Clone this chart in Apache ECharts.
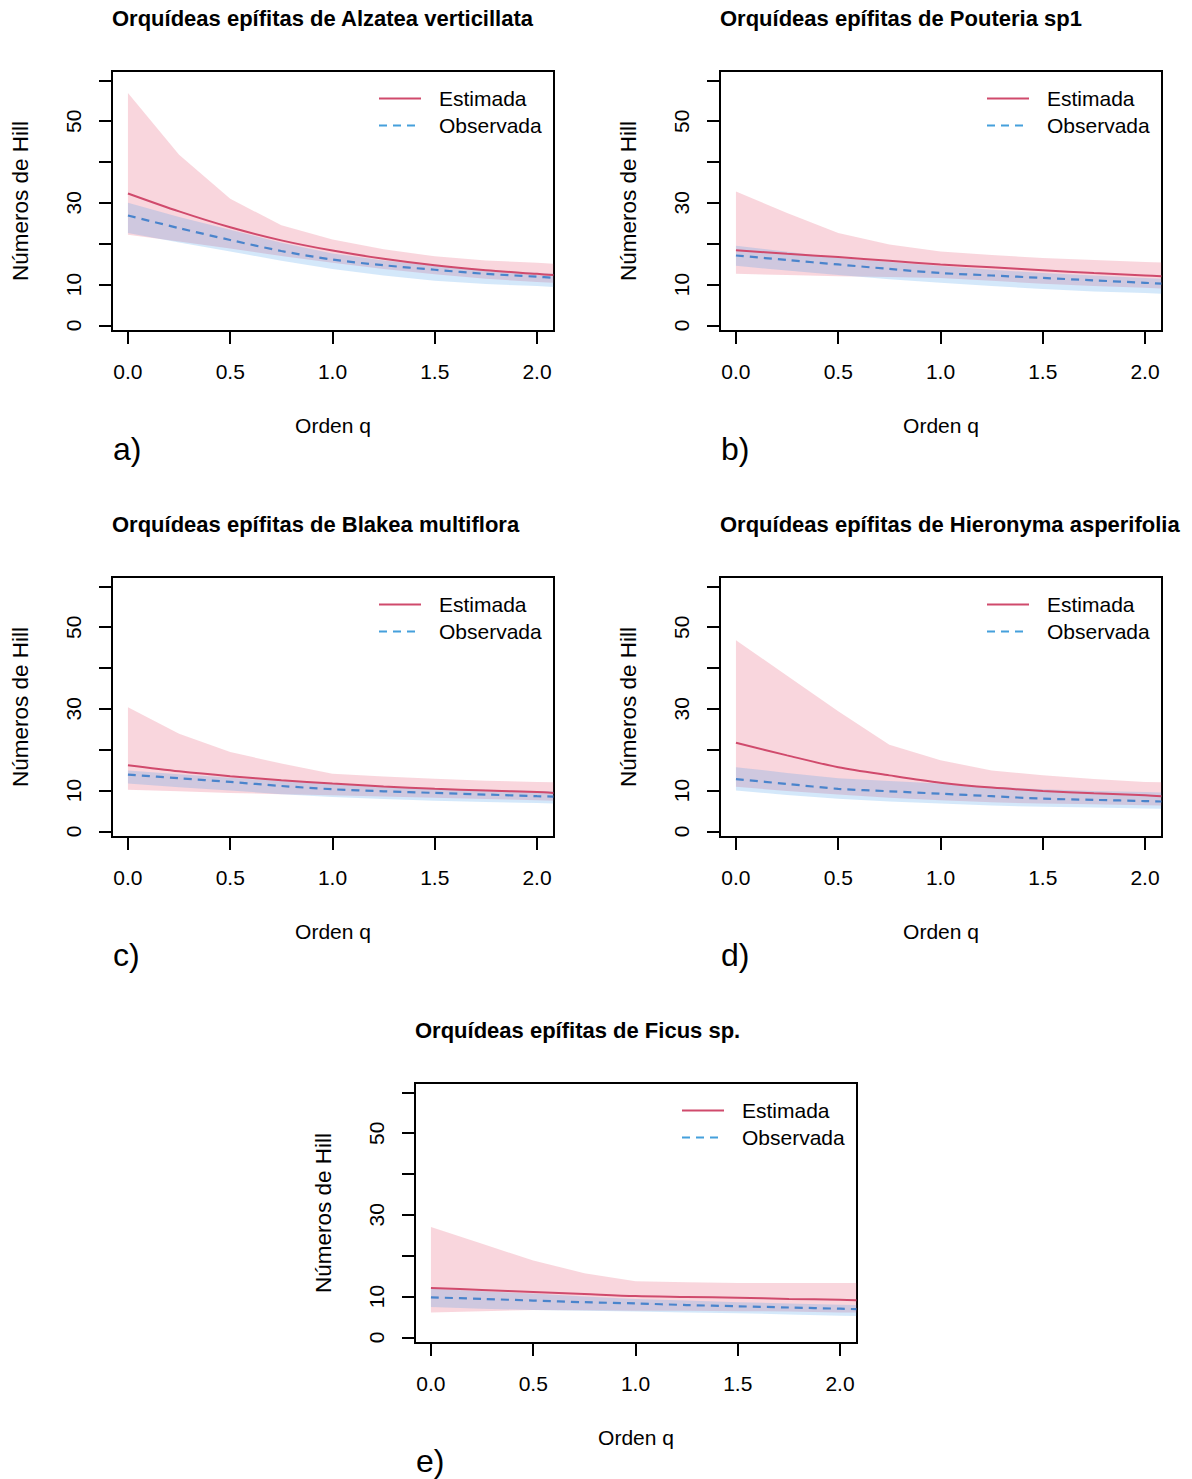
<!DOCTYPE html>
<html><head><meta charset="utf-8">
<script src="https://cdn.jsdelivr.net/npm/echarts@6/dist/echarts.min.js"></script>
<style>html,body{margin:0;padding:0;background:#fff}#c{width:1192px;height:1479px}</style>
</head><body><div id="c"></div>
<script>
// Orden q
const q = [0, 0.25, 0.5, 0.75, 1.0, 1.25, 1.5, 1.75, 2.0, 2.08];
const xTicks = [0, 0.5, 1.0, 1.5, 2.0];
const yTicks = [0, 10, 20, 30, 40, 50, 60];
const yLabels = [0, 10, 30, 50];
const seriesNames = ['Estimada', 'Observada'];

// a) Alzatea verticillata
const alzEst   = [32.3, 27.9, 24.0, 20.8, 18.3, 16.3, 14.7, 13.5, 12.6, 12.3];
const alzEstHi = [56.9, 41.8, 31.0, 24.5, 21.0, 18.6, 16.9, 15.9, 15.3, 15.1];
const alzEstLo = [22.2, 20.5, 18.8, 17.0, 15.3, 13.8, 12.5, 11.4, 10.6, 10.4];
const alzObs   = [26.9, 23.8, 20.9, 18.2, 16.1, 14.7, 13.6, 12.6, 11.9, 11.6];
const alzObsHi = [30.0, 26.5, 23.4, 20.2, 17.6, 15.9, 14.6, 13.6, 12.8, 12.6];
const alzObsLo = [22.6, 20.3, 18.1, 15.8, 13.8, 12.2, 10.9, 10.1, 9.6, 9.4];

// b) Pouteria sp1
const pouEst   = [18.4, 17.5, 16.7, 15.8, 14.9, 14.2, 13.5, 12.8, 12.2, 12.0];
const pouEstHi = [32.8, 27.5, 22.6, 19.8, 18.1, 17.2, 16.5, 16.0, 15.5, 15.4];
const pouEstLo = [12.6, 12.3, 12.0, 11.8, 11.6, 10.9, 10.2, 9.6, 9.2, 9.0];
const pouObs   = [17.1, 16.0, 14.9, 13.8, 12.8, 12.2, 11.6, 11.0, 10.4, 10.2];
const pouObsHi = [19.5, 18.0, 16.5, 15.5, 14.5, 13.6, 12.8, 12.2, 11.6, 11.4];
const pouObsLo = [14.6, 13.4, 12.3, 11.3, 10.4, 9.6, 8.9, 8.3, 7.9, 7.7];

// c) Blakea multiflora
const blaEst   = [16.2, 14.7, 13.5, 12.5, 11.7, 11.0, 10.4, 10.0, 9.6, 9.4];
const blaEstHi = [30.4, 23.9, 19.4, 16.6, 14.1, 13.4, 12.9, 12.4, 12.1, 12.0];
const blaEstLo = [10.2, 9.8, 9.4, 9.1, 8.8, 8.5, 8.2, 7.9, 7.6, 7.5];
const blaObs   = [13.9, 13.0, 12.1, 11.1, 10.3, 9.8, 9.4, 9.0, 8.6, 8.5];
const blaObsHi = [14.9, 14.0, 13.1, 12.3, 11.7, 11.0, 10.5, 10.2, 9.9, 9.8];
const blaObsLo = [11.7, 10.8, 10.0, 9.1, 8.4, 7.9, 7.5, 7.2, 6.9, 6.8];

// d) Hieronyma asperifolia
const hieEst   = [21.7, 18.6, 15.7, 13.7, 11.9, 10.7, 9.9, 9.3, 8.8, 8.6];
const hieEstHi = [46.8, 38.1, 29.4, 21.2, 17.4, 14.9, 13.7, 12.8, 12.1, 12.0];
const hieEstLo = [10.9, 9.9, 9.0, 8.2, 7.6, 7.1, 6.8, 6.6, 6.4, 6.3];
const hieObs   = [12.8, 11.6, 10.4, 9.8, 9.2, 8.6, 8.0, 7.7, 7.4, 7.3];
const hieObsHi = [15.7, 14.3, 13.0, 12.3, 11.7, 10.9, 10.3, 9.9, 9.6, 9.5];
const hieObsLo = [10.0, 8.9, 8.0, 7.3, 6.8, 6.3, 6.0, 5.8, 5.6, 5.5];

// e) Ficus sp.
const ficEst   = [12.1, 11.6, 11.1, 10.6, 10.1, 9.9, 9.7, 9.4, 9.2, 9.1];
const ficEstHi = [27.0, 22.9, 18.8, 15.7, 13.7, 13.5, 13.3, 13.3, 13.3, 13.3];
const ficEstLo = [6.1, 6.4, 6.7, 6.6, 6.5, 6.5, 6.4, 6.3, 6.1, 6.1];
const ficObs   = [9.8, 9.4, 9.0, 8.6, 8.3, 7.9, 7.6, 7.3, 7.0, 6.9];
const ficObsHi = [11.9, 11.3, 10.7, 10.0, 9.4, 9.0, 8.6, 8.3, 8.0, 7.9];
const ficObsLo = [7.4, 7.0, 6.7, 6.5, 6.3, 6.1, 5.9, 5.6, 5.3, 5.2];

const titles = [
  'Orquídeas epífitas de Alzatea verticillata',
  'Orquídeas epífitas de Pouteria sp1',
  'Orquídeas epífitas de Blakea multiflora',
  'Orquídeas epífitas de Hieronyma asperifolia',
  'Orquídeas epífitas de Ficus sp.'
];
const letters = ['a)', 'b)', 'c)', 'd)', 'e)'];

const panelData = [
  [alzEst, alzEstLo, alzEstHi, alzObs, alzObsLo, alzObsHi],
  [pouEst, pouEstLo, pouEstHi, pouObs, pouObsLo, pouObsHi],
  [blaEst, blaEstLo, blaEstHi, blaObs, blaObsLo, blaObsHi],
  [hieEst, hieEstLo, hieEstHi, hieObs, hieObsLo, hieObsHi],
  [ficEst, ficEstLo, ficEstHi, ficObs, ficObsLo, ficObsHi]
];

// layout (pixels)
const boxes = [
  {left: 112, top: 71},
  {left: 720, top: 71},
  {left: 112, top: 577},
  {left: 720, top: 577},
  {left: 415, top: 1083}
];
const BW = 442, BH = 260;
const FONT = "'Liberation Sans', Arial, Helvetica, sans-serif";
const RED = '#D04A6C', BLUE = '#4A84CC', BLUE_LEG = '#45A0DC';
const PINK_FILL = 'rgba(232,90,120,0.25)', BLUE_FILL = 'rgba(60,150,230,0.22)';
const NOSYM = {color: 'rgba(0,0,0,0)', opacity: 0, borderWidth: 0};

const grid = [], xAxis = [], yAxis = [], series = [], legend = [], title = [], graphic = [];

function ribbon(i, lo, hi, fill, z) {
  return {
    type: 'custom', name: 'band' + i + z, xAxisIndex: i, yAxisIndex: i, z: z, clip: true,
    silent: true, data: [[0, 0]],
    renderItem: function (params, api) {
      const pts = [];
      for (let k = 0; k < q.length; k++) pts.push(api.coord([q[k], hi[k]]));
      for (let k = q.length - 1; k >= 0; k--) pts.push(api.coord([q[k], lo[k]]));
      return {type: 'polygon', shape: {points: pts}, style: {fill: fill, stroke: null}};
    }
  };
}

boxes.forEach((b, i) => {
  const [est, estLo, estHi, obs, obsLo, obsHi] = panelData[i];
  grid.push({left: b.left, top: b.top, width: BW, height: BH, show: true,
    borderColor: '#000', borderWidth: 2, backgroundColor: 'transparent', containLabel: false});
  xAxis.push({
    type: 'value', gridIndex: i, min: -0.078, max: 2.083,
    name: 'Orden q', nameLocation: 'middle', nameGap: 84,
    nameTextStyle: {fontSize: 21, color: '#000', fontFamily: FONT},
    axisLine: {show: false, onZero: false}, splitLine: {show: false},
    axisTick: {show: true, inside: false, length: 13, lineStyle: {color: '#000', width: 2}, customValues: xTicks},
    axisLabel: {show: true, fontSize: 21, color: '#000', fontFamily: FONT, margin: 30,
      customValues: xTicks, formatter: v => v.toFixed(1)}
  });
  yAxis.push({
    type: 'value', gridIndex: i, min: -1.4, max: 62.3,
    name: 'Números de Hill', nameLocation: 'middle', nameGap: 80,
    nameTextStyle: {fontSize: 22.5, color: '#000', fontFamily: FONT},
    axisLine: {show: false, onZero: false}, splitLine: {show: false},
    axisTick: {show: true, inside: false, length: 13, lineStyle: {color: '#000', width: 2}, customValues: yTicks},
    axisLabel: {show: true, fontSize: 21, color: '#000', fontFamily: FONT, margin: 28, rotate: 90,
      customValues: yLabels}
  });
  series.push(ribbon(i, estLo, estHi, PINK_FILL, 1));
  series.push(ribbon(i, obsLo, obsHi, BLUE_FILL, 2));
  series.push({type: 'line', name: seriesNames[0], xAxisIndex: i, yAxisIndex: i, z: 3,
    data: q.map((x, k) => [x, est[k]]), smooth: 0.3, symbol: 'none', showSymbol: false,
    lineStyle: {color: RED, width: 2}, itemStyle: {color: RED}});
  series.push({type: 'line', name: seriesNames[1], xAxisIndex: i, yAxisIndex: i, z: 4,
    data: q.map((x, k) => [x, obs[k]]), smooth: 0.3, symbol: 'none', showSymbol: false,
    lineStyle: {color: BLUE, width: 2.2, type: [8, 6]}, itemStyle: {color: BLUE}});
  legend.push({
    left: b.left + 266, top: b.top + 17, orient: 'vertical', padding: 0,
    itemWidth: 42, itemHeight: 14, itemGap: 6, selectedMode: false,
    itemStyle: NOSYM,
    textStyle: {fontSize: 21, color: '#000', fontFamily: FONT, lineHeight: 21, padding: [0, 0, 0, 13]},
    data: [
      {name: seriesNames[0], itemStyle: NOSYM, lineStyle: {color: RED, width: 2}},
      {name: seriesNames[1], itemStyle: NOSYM, lineStyle: {color: BLUE_LEG, width: 2, type: [8, 6]}}
    ]
  });
  title.push({text: titles[i], left: b.left, top: b.top - 64, padding: 0,
    textStyle: {fontSize: 22, fontWeight: 'bold', color: '#000', fontFamily: FONT}});
  graphic.push({type: 'text', left: b.left + 1, top: b.top + 362,
    style: {text: letters[i], fontSize: 32, fill: '#000', fontFamily: FONT}});
});

const chart = echarts.init(document.getElementById('c'), null, {renderer: 'svg', width: 1192, height: 1479});
chart.setOption({
  animation: false, backgroundColor: '#fff',
  grid, xAxis, yAxis, series, legend, title, graphic
});
</script>
</body></html>
